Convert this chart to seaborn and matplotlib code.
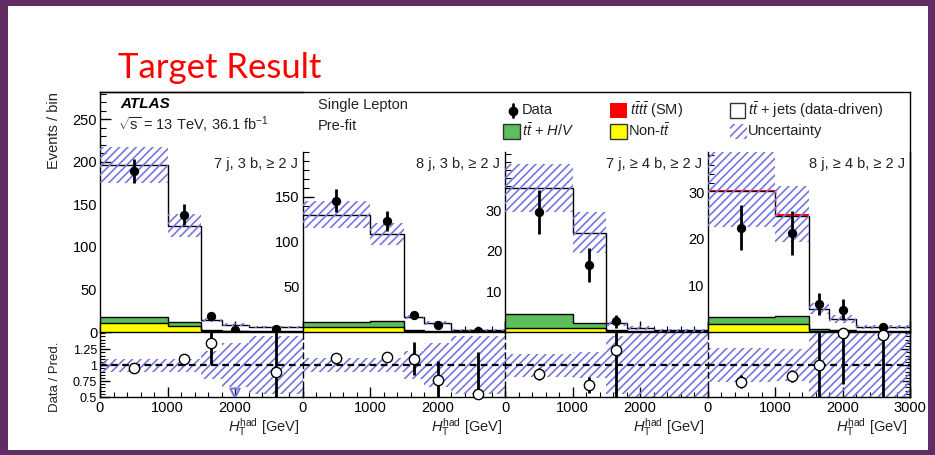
import numpy as np
import matplotlib
matplotlib.use("Agg")
import matplotlib.pyplot as plt
import seaborn as sns
from matplotlib.patches import Rectangle
from matplotlib.ticker import MultipleLocator, FixedLocator, NullFormatter

# bin edges in H_T^had [GeV], same for all four regions
edges = [0, 1000, 1500, 1800, 2200, 3000]
centers = [500, 1250, 1650, 2000, 2600]

region_labels = ["7 j, 3 b, \u2265 2 J", "8 j, 3 b, \u2265 2 J",
                 "7 j, \u2265 4 b, \u2265 2 J", "8 j, \u2265 4 b, \u2265 2 J"]

# stacked predictions per region (bottom to top)
non_tt = [[10, 7, 1.0, 0.8, 0.5],
          [6, 6, 0.8, 0.5, 0.3],
          [1.0, 1.0, 0.2, 0.1, 0.05],
          [1.7, 1.7, 0.3, 0.2, 0.1]]
tt_hv = [[8, 5, 1.0, 0.7, 0.5],
         [5, 6, 1.0, 0.6, 0.3],
         [3.4, 1.2, 0.3, 0.2, 0.1],
         [1.6, 1.8, 0.4, 0.3, 0.1]]
tt_jets = [[178, 113, 12, 7, 5],
           [119, 97, 15, 8.8, 1.8],
           [31, 22.2, 1.7, 0.7, 0.25],
           [27.0, 21.5, 4.2, 2.25, 0.78]]
tttt = [[0.1, 0.1, 0.05, 0.05, 0.05],
        [0.1, 0.1, 0.05, 0.05, 0.02],
        [0.1, 0.1, 0.0, 0.0, 0.0],
        [0.3, 0.3, 0.1, 0.05, 0.02]]
pred_unc = [[21, 13, 2.5, 2, 1.5],
            [15, 12, 2.5, 2, 1],
            [6, 5, 0.6, 0.4, 0.3],
            [8, 6, 1.2, 0.8, 0.4]]

# observed data
data = [[189, 138, 19, 2, 4],
        [146, 123, 19, 8, 1],
        [29.6, 16.5, 2.7, 0, 0],
        [22.4, 21.3, 6, 4.8, 1]]
data_err = [[14, 12, 4.5, 1.5, 2],
            [13, 11, 4.4, 2.8, 1],
            [5.4, 4.1, 1.6, 0, 0],
            [4.8, 4.7, 2.4, 2.2, 1]]

# ratio panel
ratio = [[0.96, 1.09, 1.34, 0.25, 0.89],
         [1.11, 1.13, 1.10, 0.76, 0.54],
         [0.86, 0.69, 1.24, np.nan, np.nan],
         [0.74, 0.83, 1.00, 1.50, 1.47]]
ratio_err = [[0.06, 0.08, 0.32, 0, 0.7],
             [0.08, 0.08, 0.26, 0.31, 0.66],
             [0.10, 0.12, 0.75, 0, 0],
             [0.10, 0.10, 0.6, 0.8, 1.0]]
ratio_band = [[0.10, 0.10, 0.22, 0.35, 0.45],
              [0.11, 0.11, 0.22, 0.35, 0.45],
              [0.18, 0.20, 0.45, 0.50, 0.50],
              [0.27, 0.25, 0.50, 0.50, 0.50]]

ymax = [282, 200, 44.4, 38.7]
yticks = [[0, 50, 100, 150, 200, 250], [50, 100, 150], [10, 20, 30], [10, 20, 30]]

PURPLE = "#612d65"
GREEN = "#5cbd5c"
YELLOW = "#ffff00"
RED = "#ff0000"
HATCH = "#7676e2"

sns.set_theme(style="ticks")
plt.rcParams["font.family"] = ["Liberation Sans", "DejaVu Sans"]
plt.rcParams["mathtext.fontset"] = "custom"
plt.rcParams["mathtext.rm"] = "Liberation Sans"
plt.rcParams["mathtext.it"] = "Liberation Sans:italic"
plt.rcParams["mathtext.bf"] = "Liberation Sans:bold"
plt.rcParams["hatch.linewidth"] = 1.2
plt.rcParams["axes.linewidth"] = 1.0

W, H = 935, 455
fig = plt.figure(figsize=(W / 100, H / 100), dpi=100)
fig.patch.set_facecolor(PURPLE)
fig.patches.append(Rectangle((8 / W, 1 - 450 / H), 920 / W, 444 / H,
                             transform=fig.transFigure, facecolor="white",
                             edgecolor="none", zorder=-10))


def px_box(x0, y0, x1, y1):
    return [x0 / W, 1 - y1 / H, (x1 - x0) / W, (y1 - y0) / H]


def ftext(x, y, s, **kw):
    kw.setdefault("va", "center")
    fig.text(x / W, 1 - y / H, s, **kw)


fig.text(118 / W, 1 - 78 / H, "Target Result", color=RED, fontsize=25,
         family=["Lato", "DejaVu Sans"], va="baseline")

xs = [100, 302.5, 505, 707.5, 910]
widths = np.diff(edges)

for i in range(4):
    top = 92 if i == 0 else 152
    ax = fig.add_axes(px_box(xs[i], top, xs[i + 1], 332))
    rax = fig.add_axes(px_box(xs[i], 332, xs[i + 1], 397))
    for a in (ax, rax):
        a.set_facecolor("none")
        a.set_xlim(0, 3000)

    # stacked histogram
    bottom = np.zeros(5)
    for vals, col in [(non_tt[i], YELLOW), (tt_hv[i], GREEN), (tt_jets[i], "white")]:
        upper = bottom + np.array(vals)
        ax.stairs(upper, edges, baseline=bottom, fill=True, color=col, lw=0, zorder=1)
        ax.stairs(upper, edges, baseline=None, color="black", lw=1.0, zorder=2)
        bottom = upper
    sig = np.array(tttt[i])
    upper = bottom + sig
    ax.stairs(upper, edges, baseline=bottom, fill=True, color=RED, lw=0, zorder=2)
    ax.stairs(np.where(sig >= 0.2, upper, np.nan), edges, baseline=None, color=RED,
              lw=1.0, ls=(0, (3, 3)), zorder=3)
    total = upper

    unc = np.array(pred_unc[i])
    ax.bar(edges[:-1], 2 * unc, width=widths, bottom=total - unc, align="edge",
           facecolor="none", edgecolor=HATCH, hatch="////", lw=0, zorder=3)

    d = np.array(data[i])
    keep = d > 0
    ax.errorbar(np.array(centers)[keep], d[keep], yerr=np.array(data_err[i])[keep],
                fmt="none", ecolor="black", elinewidth=2, capsize=0, zorder=4)
    sns.scatterplot(x=np.array(centers)[keep], y=d[keep], ax=ax, color="black",
                    s=45, edgecolor="black", linewidth=0, zorder=5, legend=False)

    ax.set_ylim(0, ymax[i])
    ax.yaxis.set_major_locator(FixedLocator(yticks[i]))
    ax.yaxis.set_minor_locator(MultipleLocator(10 if i < 2 else 2))
    ax.xaxis.set_major_locator(MultipleLocator(1000))
    ax.xaxis.set_minor_locator(MultipleLocator(200))
    ax.xaxis.set_major_formatter(NullFormatter())
    ax.tick_params(axis="both", which="both", direction="in", labelsize=10.5, pad=2,
                   colors="black", top=False, right=False)
    ax.tick_params(which="major", length=8, width=1)
    ax.tick_params(which="minor", length=4, width=0.8)
    ax.spines["right"].set_visible(i == 3)
    ax.spines["top"].set_visible(i == 0)
    for s in ax.spines.values():
        s.set_color("black")
    ax.set_xlabel("")
    ax.set_ylabel("")

    ax.text(0.975, 1 - (164 - top) / (332 - top), region_labels[i], transform=ax.transAxes,
            ha="right", va="center", fontsize=10.5, color="#222222")

    # ratio panel
    rb = np.array(ratio_band[i])
    rax.bar(edges[:-1], 2 * rb, width=widths, bottom=1 - rb, align="edge",
            facecolor="none", edgecolor=HATCH, hatch="////", lw=0, zorder=1)
    rax.axhline(1, color="black", lw=1.6, ls=(0, (3, 2)), zorder=2)
    r = np.array(ratio[i])
    re = np.array(ratio_err[i])
    c = np.array(centers)
    inside = np.isfinite(r) & (r >= 0.5)
    rax.errorbar(c[inside], r[inside], yerr=re[inside], fmt="none", ecolor="black",
                 elinewidth=2, capsize=0, zorder=3, clip_on=True)
    sns.scatterplot(x=c[inside], y=r[inside], ax=rax, color="white", s=55,
                    edgecolor="black", linewidth=1.0, zorder=4, legend=False, clip_on=False)
    below = np.isfinite(r) & (r < 0.5)
    if below.any():
        rax.scatter(c[below], np.full(below.sum(), 0.56), marker="v", s=45,
                    facecolor="none", edgecolor=HATCH, linewidth=1.5, zorder=4)

    rax.set_ylim(0.5, 1.52)
    rax.yaxis.set_major_locator(FixedLocator([0.5, 0.75, 1.0, 1.25]))
    rax.yaxis.set_minor_locator(MultipleLocator(0.05))
    rax.xaxis.set_major_locator(FixedLocator([0, 1000, 2000, 3000] if i == 3 else [0, 1000, 2000]))
    rax.xaxis.set_minor_locator(MultipleLocator(200))
    rax.set_yticklabels(["0.5", "0.75", "1", "1.25"])
    rax.tick_params(axis="both", which="both", direction="in", colors="black",
                    top=False, right=(i == 3), left=True)
    rax.tick_params(axis="x", labelsize=10.5, pad=3)
    rax.tick_params(axis="y", labelsize=9, pad=2)
    rax.tick_params(which="major", length=7, width=1)
    rax.tick_params(which="minor", length=3.5, width=0.8)
    rax.spines["top"].set_visible(False)
    rax.spines["right"].set_visible(i == 3)
    for s in rax.spines.values():
        s.set_color("black")
    if i > 0:
        rax.spines["left"].set_linestyle((0, (4, 3)))
        rax.tick_params(axis="y", which="both", left=False, labelleft=False)
    rax.set_xlabel(r"$H_{\mathrm{T}}^{\mathrm{had}}$ [GeV]", fontsize=10.5,
                   color="#222222", ha="right", x=0.985, labelpad=1)
    rax.set_ylabel("")

# outer frame
frame = fig.add_axes(px_box(100, 92, 910, 397))
frame.set_facecolor("none")
frame.set_xticks([])
frame.set_yticks([])
for s in frame.spines.values():
    s.set_color("black")
    s.set_linewidth(1.0)
frame.spines["bottom"].set_visible(False)
frame.spines["left"].set_visible(False)

ftext(54, 131, "Events / bin", rotation=90, ha="center", fontsize=10.5, color="#222222")
ftext(55, 377, "Data / Pred.", rotation=90, ha="center", fontsize=9.5, color="#222222")

ftext(120, 104, "ATLAS", fontsize=11, weight="bold", style="italic", color="black")
ftext(118, 125, r"$\sqrt{\mathrm{s}}$ = 13 TeV, 36.1 fb$^{-1}$", fontsize=10.5, color="#222222")
ftext(318, 105, "Single Lepton", fontsize=10.5, color="#222222")
ftext(318, 126, "Pre-fit", fontsize=10.5, color="#222222")

# legend
leg = fig.add_axes([0, 0, 1, 1])
leg.set_facecolor("none")
leg.set_xlim(0, W)
leg.set_ylim(H, 0)
leg.axis("off")
leg.plot([513, 513], [104, 117], color="black", lw=2)
leg.plot([513], [110.5], "o", color="black", ms=6)
ftext(522, 110, "Data", fontsize=10.5, color="#222222")
leg.add_patch(Rectangle((610, 103), 17, 15, facecolor=RED, edgecolor="none"))
ftext(630, 110, r"$t\bar{t}t\bar{t}$ (SM)", fontsize=10.5, color="#222222")
leg.add_patch(Rectangle((730, 103), 15, 15, facecolor="white", edgecolor="#333333", lw=1))
ftext(748, 110, r"$t\bar{t}$ + jets (data-driven)", fontsize=10.5, color="#222222")
leg.add_patch(Rectangle((503, 124), 17, 15, facecolor=GREEN, edgecolor="#333333", lw=1))
ftext(522, 131, r"$t\bar{t}$ + $H/V$", fontsize=10.5, color="#222222")
leg.add_patch(Rectangle((610, 124), 17, 15, facecolor=YELLOW, edgecolor="#333333", lw=1))
ftext(628, 131, r"Non-$t\bar{t}$", fontsize=10.5, color="#222222")
leg.add_patch(Rectangle((730, 124), 17, 15, facecolor="none", edgecolor=HATCH, hatch="////", lw=0))
ftext(748, 131, "Uncertainty", fontsize=10.5, color="#222222")

fig.savefig("out.png", dpi=100, facecolor=fig.get_facecolor())
